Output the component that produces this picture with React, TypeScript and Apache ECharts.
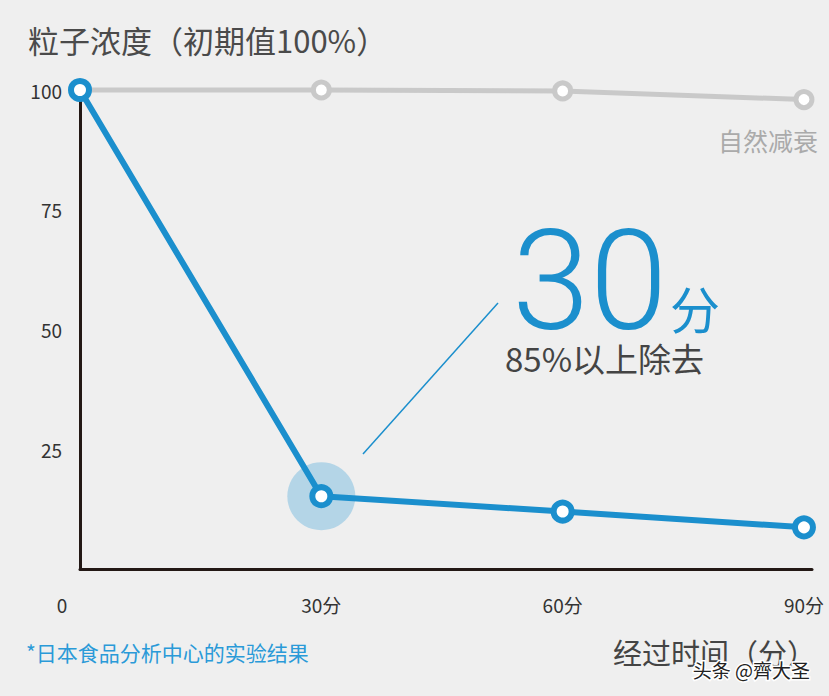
import React, { useEffect, useRef } from "react";
import * as echarts from "echarts";

const minutes = [0, 30, 60, 90];
const naturalDecay = [100, 100, 99.8, 98];
const withDevice = [100, 15.2, 12, 8.7];
const yTicks = [25, 50, 75, 100];
const highlightMinute = 30;

const BLUE = "#1b8fcd";
const GRAY = "#c9c9c9";
const CJK = '"Noto Sans CJK SC", "Noto Sans", sans-serif';

function txt(text: string, x: number, y: number, size: number, fill: string, align: string, extra: any = {}) {
  return {
    type: "text",
    x,
    y,
    silent: true,
    style: {
      text,
      fill,
      font: `${extra.weight || "normal"} ${size}px ${extra.family || CJK}`,
      textAlign: align,
      align,
      textVerticalAlign: "middle",
      verticalAlign: "middle",
      ...(extra.lineHeight ? { lineHeight: extra.lineHeight } : {}),
      ...(extra.stroke ? { stroke: extra.stroke, lineWidth: extra.lineWidth || 2 } : {}),
    },
  };
}

export default function App() {
  const ref = useRef<HTMLDivElement>(null);
  useEffect(() => {
    if (!ref.current) return;
    const chart = echarts.init(ref.current, null, { renderer: "svg" });
    const hiIdx = minutes.indexOf(highlightMinute);
    chart.setOption({
      animation: false,
      backgroundColor: "#efefef",
      grid: { left: 80, top: 90, right: 17, bottom: 127 },
      xAxis: {
        type: "value",
        min: 0,
        max: 91,
        interval: 30,
        axisLine: { show: true, lineStyle: { color: "#231815", width: 3 } },
        axisTick: { show: false },
        splitLine: { show: false },
        axisLabel: {
          margin: 26,
          fontSize: 19,
          color: "#333",
          fontFamily: CJK,
          showMaxLabel: false,
          formatter: (v: number) => {
            if (!minutes.includes(v)) return "";
            if (v === 0) return "{z|0}";
            return v + "分";
          },
          rich: { z: { fontSize: 19, color: "#333", fontFamily: CJK, padding: [0, 36, 0, 0] } },
        },
      },
      yAxis: {
        type: "value",
        min: 0,
        max: 100,
        interval: 25,
        axisLine: { show: true, lineStyle: { color: "#231815", width: 3 } },
        axisTick: { show: false },
        splitLine: { show: false },
        axisLabel: {
          margin: 18,
          fontSize: 19,
          color: "#333",
          fontFamily: CJK,
          formatter: (v: number) => (yTicks.includes(v) ? String(v) : ""),
        },
      },
      series: [
        {
          type: "scatter",
          silent: true,
          data: [[minutes[hiIdx], withDevice[hiIdx]]],
          symbolSize: 68,
          itemStyle: { color: "#b4d5e7", opacity: 1 },
          z: 1,
        },
        {
          type: "line",
          clip: false,
          data: minutes.map((m, i) => [m, naturalDecay[i]]),
          lineStyle: { color: GRAY, width: 5 },
          symbol: "circle",
          symbolSize: 16,
          showAllSymbol: true,
          itemStyle: { color: "#fff", borderColor: GRAY, borderWidth: 5 },
          z: 2,
        },
        {
          type: "line",
          clip: false,
          data: minutes.map((m, i) => [m, withDevice[i]]),
          lineStyle: { color: BLUE, width: 6 },
          symbol: "circle",
          symbolSize: 18,
          showAllSymbol: true,
          itemStyle: { color: "#fff", borderColor: BLUE, borderWidth: 6 },
          z: 3,
        },
      ],
      graphic: [
        txt("粒子浓度（初期值100%）", 28, 39, 31, "#4a4a4a", "left"),
        txt("自然减衰", 818, 140, 25, "#aaa", "right"),
        {
          type: "line",
          silent: true,
          shape: { x1: 363, y1: 454, x2: 498, y2: 303 },
          style: { stroke: BLUE, lineWidth: 1.5 },
        },
        txt("30", 512, 281, 140, BLUE, "left", { weight: 300, family: 'Roboto, "Liberation Sans", sans-serif', lineHeight: 104 }),
        txt("分", 670, 307, 50, BLUE, "left"),
        txt("85%以上除去", 505, 358, 33, "#444", "left"),
        txt("*日本食品分析中心的实验结果", 26, 652, 21, "#2a9ad8", "left"),
        txt("经过时间（分）", 816, 652, 29, "#444", "right"),
        txt("头条 @齊大圣", 810, 669, 19, "#222", "right", { stroke: "#fff", lineWidth: 3 }),
      ],
    });
    return () => chart.dispose();
  }, []);
  return (
    <div
      ref={ref}
      style={{ position: "fixed", left: 0, top: 0, width: 829, height: 696 }}
    />
  );
}
